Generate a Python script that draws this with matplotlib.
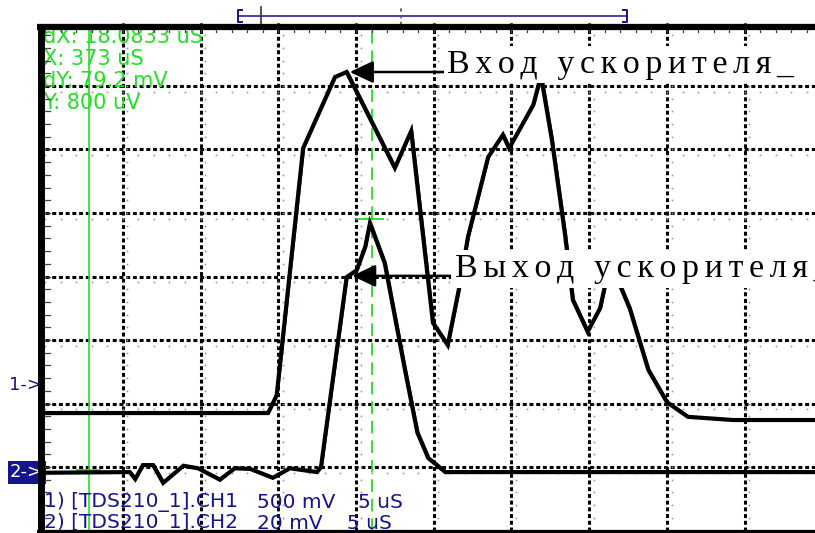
import numpy as np
import matplotlib
matplotlib.use('Agg')
from matplotlib import pyplot as plt
from matplotlib import transforms

# scope traces, x in divisions (5 uS/div), y in divisions from the bottom of the screen
ch1_x = [0.0, 2.87, 2.98, 3.32, 3.73, 3.88, 4.50, 4.71, 4.99, 5.18, 5.34, 5.44, 5.70,
         5.89, 5.97, 6.28, 6.38, 6.52, 6.69, 6.79, 6.98, 7.14, 7.27, 7.52, 7.76, 8.00,
         8.27, 8.85, 10.0]
ch1_y = [1.85, 1.85, 2.13, 6.02, 7.14, 7.22, 5.71, 6.29, 3.27, 2.92, 3.90, 4.62, 5.88,
         6.23, 6.02, 6.70, 7.16, 6.15, 4.65, 3.63, 3.13, 3.50, 4.23, 3.50, 2.53, 2.02,
         1.79, 1.74, 1.74]

ch2_x = [0.0, 1.09, 1.16, 1.26, 1.39, 1.52, 1.78, 1.97, 2.25, 2.44, 2.64, 2.93, 3.15,
         3.50, 3.55, 3.88, 4.01, 4.12, 4.18, 4.37, 4.63, 4.79, 4.93, 5.15, 10.0]
ch2_y = [0.91, 0.92, 0.81, 1.03, 1.03, 0.75, 1.02, 0.98, 0.80, 0.98, 0.97, 0.83, 0.98,
         0.92, 1.00, 3.99, 4.10, 4.47, 4.84, 4.21, 2.53, 1.54, 1.14, 0.92, 0.92]

# cursors
cursor1_x = 0.566
cursor2_x = 4.206
cursor_text = ['dX: 18.0833 uS', 'X: 373 uS', 'dY: 79.2 mV', 'Y: 800 uV']

# labels with arrows: (text, arrow tip, text start)
labels = [
    ('Вход ускорителя_', (3.92, 7.22), (5.17, 7.205)),
    ('Выход ускорителя_', (3.95, 4.01), (5.27, 3.99)),
]

ch_info = [('1) [TDS210_1].CH1', '500 mV', '5 uS'),
           ('2) [TDS210_1].CH2', '20 mV', '5 uS')]

green = '#22e022'
navy = '#14148c'
small = dict(family='DejaVu Sans', fontsize=14.5)

fig = plt.figure(figsize=(8.15, 5.33), dpi=100)
ax = fig.add_axes([0, 0, 1, 1])
ax.set_xlim(-0.579, 9.904)
ax.set_ylim(-0.039, 8.354)
ax.axis('off')

# dotted grid
for gx in range(1, 10):
    ax.plot([gx, gx], [0, 8], color='k', lw=2.2, dashes=(1.3, 0.9),
            dash_capstyle='butt', zorder=1)
for gy in range(1, 8):
    ax.plot([0, 10], [gy, gy], color='k', lw=2.2, dashes=(1.3, 0.9),
            dash_capstyle='butt', zorder=1)

# minor dots
xs = np.arange(0, 10.01, 0.2)
ys = np.arange(0, 7.81, 0.2)
for gy in range(1, 8):
    ax.plot(xs, np.full_like(xs, gy - 0.09), ls='none', marker='s', ms=1.2,
            mec='none', color='#9a9a9a', zorder=1)
for gx in range(1, 10):
    ax.plot(np.full_like(ys, gx + 0.06), ys, ls='none', marker='s', ms=1.2,
            mec='none', color='#9a9a9a', zorder=1)

# cursors
ax.plot([cursor1_x, cursor1_x], [0, 7.93], color=green, lw=1.2, zorder=2)
ax.plot([cursor2_x, cursor2_x], [0, 7.93], color=green, lw=1.3,
        dashes=(7, 3.8), zorder=2)
ax.plot([4.03, 4.35], [4.906, 4.906], color=green, lw=1.3, zorder=2)
ax.plot([0.41, 0.71], [0.953, 0.953], color=green, lw=1.3, zorder=2)

for i, s in enumerate(cursor_text):
    ax.text(-0.03, 7.772 - 0.3465 * i, s, color=green, va='center', ha='left',
            zorder=3, family='DejaVu Sans', fontsize=15)

# traces: thin blue scope line under the thick black trace
shift = transforms.offset_copy(ax.transData, fig=fig, x=1.5, y=0.5, units='dots')
for x, y in [(ch1_x, ch1_y), (ch2_x, ch2_y)]:
    ax.plot(x, y, color=navy, lw=0.8, transform=shift, zorder=3)
    ax.plot(x, y, color='k', lw=3.0, solid_joinstyle='miter', zorder=4)

# labels
for text, tip, start in labels:
    ax.annotate('', xy=tip, xytext=(start[0], tip[1]),
                arrowprops=dict(arrowstyle='-|>,head_length=0.72,head_width=0.34',
                                mutation_scale=20, lw=1.8, color='k',
                                shrinkA=0, shrinkB=0), zorder=5)
    spaced = '\u2006'.join(text)
    ax.text(start[0], start[1], spaced, family='Liberation Serif', fontsize=24.5,
            va='baseline', ha='left', color='k', zorder=6,
            bbox=dict(fc='white', ec='none', pad=2.5))

# screen frame
ax.plot([-0.058, -0.058], [-0.1, 7.97], color='k', lw=5, solid_capstyle='butt', zorder=8)
ax.plot([-0.1, 10], [7.93, 7.93], color='k', lw=4.5, solid_capstyle='butt', zorder=8)
ax.plot([-0.1, 10], [-0.035, -0.035], color='k', lw=4.5, solid_capstyle='butt', zorder=8)
for y in ys:
    ax.plot([-0.02, 0.06], [y, y], color='#444444', lw=0.9, zorder=7)
for x in xs:
    ax.plot([x, x], [7.85, 7.92], color='#444444', lw=0.9, zorder=7)

# channel markers and info
ax.text(-0.46, 2.29, '1->', color=navy, va='center', ha='left',
        family='DejaVu Sans', fontsize=13)
ax.text(-0.45, 0.92, '2->', color='white', va='center', ha='left',
        family='DejaVu Sans', fontsize=13,
        bbox=dict(fc=navy, ec='none', pad=1.8))
info_x = [-0.013, 2.73, 4.03]
for row, (name, volts, time) in enumerate(ch_info):
    y = 0.449 - 0.331 * row
    ax.text(info_x[0], y, name, color=navy, va='center', ha='left', zorder=3, **small)
    ax.text(info_x[1], y, volts, color=navy, va='center', ha='left', zorder=3, **small)
    ax.text(info_x[2] - 0.14 * row, y, time, color=navy, va='center', ha='left',
            zorder=3, **small)

# horizontal position bar above the screen
ax.plot([2.482, 7.486], [8.102, 8.102], color=navy, lw=1.1)
ax.plot([2.53, 2.482, 2.482, 2.53], [8.197, 8.197, 8.008, 8.008], color=navy, lw=1.4)
ax.plot([7.44, 7.486, 7.486, 7.44], [8.197, 8.197, 8.008, 8.008], color=navy, lw=1.4)
ax.plot([2.778, 2.778], [7.96, 8.245], color='#333333', lw=1.2)
ax.plot([4.579, 4.579], [7.96, 8.245], color='#555555', lw=1.2, dashes=(2, 2))

fig.savefig('out.png', dpi=100)
